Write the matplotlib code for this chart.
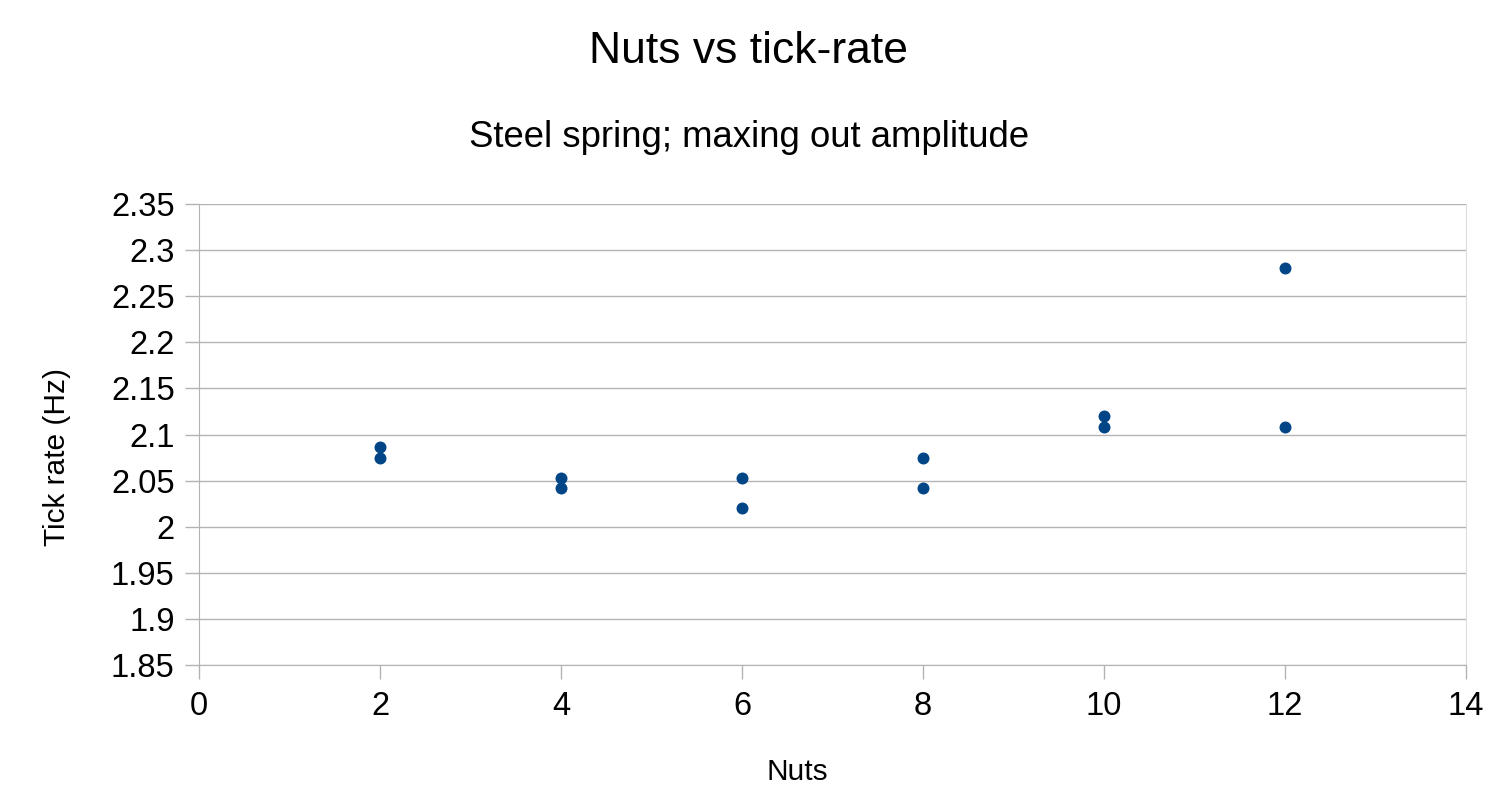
import matplotlib
matplotlib.use("Agg")
import matplotlib.pyplot as plt

plt.rcParams["font.family"] = ["Liberation Sans", "DejaVu Sans"]

# data
nuts = [2, 2, 4, 4, 6, 6, 8, 8, 10, 10, 12, 12]
tick_rate = [2.086, 2.074, 2.053, 2.042, 2.053, 2.020,
             2.074, 2.042, 2.120, 2.108, 2.281, 2.108]

x_ticks = [0, 2, 4, 6, 8, 10, 12, 14]
y_ticks = [1.85, 1.9, 1.95, 2, 2.05, 2.1, 2.15, 2.2, 2.25, 2.3, 2.35]
y_labels = ["1.85", "1.9", "1.95", "2", "2.05", "2.1", "2.15", "2.2", "2.25", "2.3", "2.35"]

fig = plt.figure(figsize=(15.05, 8.06), dpi=100)
ax = fig.add_axes([0.1322, 0.1749, 0.8419, 0.572])

ax.scatter(nuts, tick_rate, s=74, color="#004586", zorder=3, linewidths=0)

ax.set_xlim(0, 14)
ax.set_ylim(1.85, 2.35)
ax.set_xticks(x_ticks)
ax.set_yticks(y_ticks)
ax.set_yticklabels(y_labels)
ax.tick_params(labelsize=23.5, colors="#b3b3b3", labelcolor="black",
               length=10, width=1)
ax.tick_params(axis="x", pad=9)
ax.tick_params(axis="y", pad=7.5)
ax.grid(axis="y", color="#b3b3b3", linewidth=1)
ax.set_axisbelow(True)

for side in ["left", "bottom"]:
    ax.spines[side].set_color("#b3b3b3")
ax.spines["top"].set_visible(False)
ax.spines["right"].set_color("#dddddd")

ax.set_xlabel("Nuts", fontsize=21.5, va="center")
ax.xaxis.set_label_coords(0.472, -0.232)
ax.set_ylabel("Tick rate (Hz)", fontsize=21.5, va="center")
ax.yaxis.set_label_coords(-0.112, 0.451)

fig.text(0.4975, 0.9365, "Nuts vs tick-rate", ha="center", va="center", fontsize=32)
fig.text(0.4977, 0.829, "Steel spring; maxing out amplitude", ha="center", va="center", fontsize=26.3)

fig.savefig("out.png", dpi=100)
